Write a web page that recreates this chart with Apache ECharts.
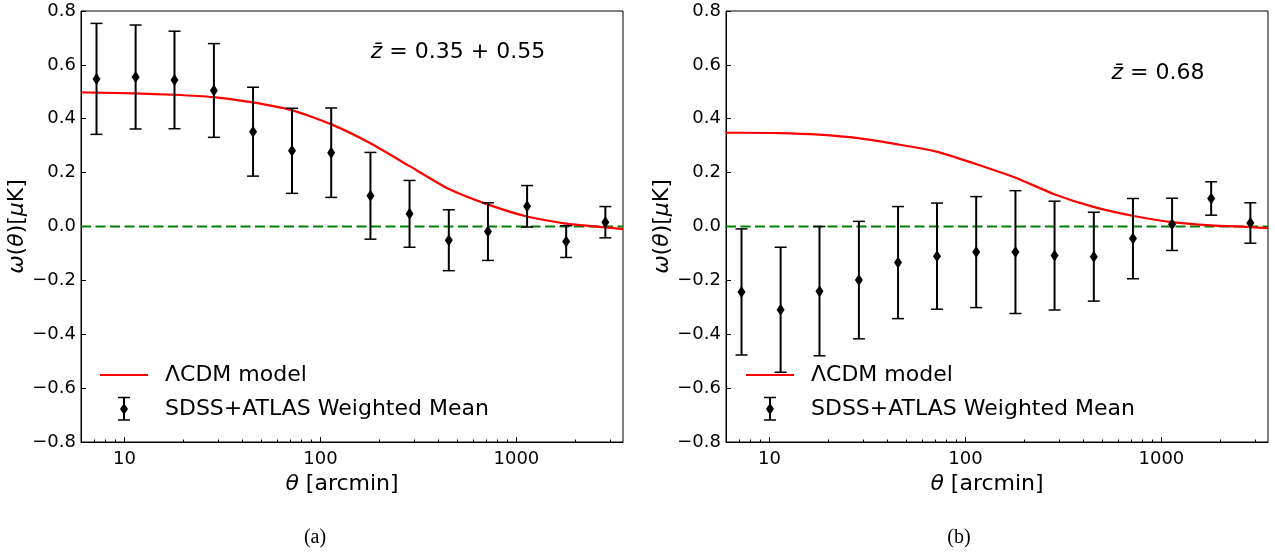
<!DOCTYPE html>
<html>
<head>
<meta charset="utf-8">
<script src="https://cdn.jsdelivr.net/npm/echarts@6/dist/echarts.min.js"></script>
<style>html,body{margin:0;padding:0;background:#fff;}#c{width:1275px;height:554px;}</style>
</head>
<body>
<div id="c"></div>
<script>
// ---- data ----
const theta = [7.2, 11.4, 18.0, 28.6, 45.3, 71.6, 113.5, 180, 285, 452, 716, 1134, 1795, 2845];
const meanA = [0.548, 0.555, 0.544, 0.505, 0.352, 0.281, 0.274, 0.114, 0.047, -0.051, -0.019, 0.075, -0.056, 0.016];
const errA  = [0.206, 0.193, 0.181, 0.174, 0.165, 0.158, 0.166, 0.161, 0.124, 0.113, 0.107, 0.077, 0.059, 0.058];
const meanB = [-0.243, -0.309, -0.240, -0.199, -0.134, -0.110, -0.095, -0.095, -0.108, -0.112, -0.045, 0.008, 0.104, 0.013];
const errB  = [0.234, 0.232, 0.240, 0.218, 0.208, 0.197, 0.206, 0.228, 0.202, 0.165, 0.149, 0.097, 0.062, 0.075];
const modelTheta = [6, 7.1, 11.3, 17.9, 28.4, 45, 71.3, 113, 179, 284, 450, 713, 1130, 1791, 2839, 3500];
const modelA = [0.498, 0.497, 0.494, 0.489, 0.480, 0.461, 0.432, 0.380, 0.310, 0.225, 0.140, 0.082, 0.037, 0.011, -0.003, -0.010];
const modelB = [0.348, 0.348, 0.347, 0.341, 0.328, 0.305, 0.278, 0.232, 0.182, 0.120, 0.073, 0.040, 0.016, 0.004, -0.002, -0.006];
const refLevel = 0;
const xRange = [6, 3500];
const yRange = [-0.8, 0.8];
const majorTicks = [10, 100, 1000];
const minorTicks = [6, 7, 8, 9, 20, 30, 40, 50, 60, 70, 80, 90, 200, 300, 400, 500, 600, 700, 800, 900, 2000, 3000];
const labels = {model: 'ΛCDM model', data: 'SDSS+ATLAS Weighted Mean', zA: '0.35 + 0.55', zB: '0.68', capA: '(a)', capB: '(b)'};

const FONT = 'DejaVu Sans';
const chart = echarts.init(document.getElementById('c'));

const grids = [
  {left: 81, top: 11, width: 542, height: 431},
  {left: 726, top: 11, width: 542, height: 431}
];

function mainX(gi) {
  return {
    type: 'log', gridIndex: gi, min: xRange[0], max: xRange[1], logBase: 10, position: 'bottom',
    name: '{i|θ} [arcmin]', nameLocation: 'middle', nameGap: 30,
    nameTextStyle: {fontFamily: FONT, fontSize: 22, color: '#000', padding: [0, 20, 0, 0],
      rich: {i: {fontFamily: FONT, fontStyle: 'italic', fontSize: 22, color: '#000'}}},
    axisLine: {show: true, onZero: false, lineStyle: {color: '#000', width: 1}},
    axisTick: {show: true, inside: true, length: 5, customValues: majorTicks, lineStyle: {color: '#000', width: 1}},
    axisLabel: {show: true, customValues: majorTicks, margin: 8, fontFamily: FONT, fontSize: 18, color: '#000',
      formatter: v => String(Math.round(v))},
    splitLine: {show: false}
  };
}
function minorX(gi) {
  return {
    type: 'log', gridIndex: gi, min: xRange[0], max: xRange[1], logBase: 10, position: 'bottom',
    axisLine: {show: false, onZero: false},
    axisTick: {show: true, inside: true, length: 2.5, customValues: minorTicks, lineStyle: {color: '#000', width: 1}},
    axisLabel: {show: false},
    splitLine: {show: false}
  };
}
function yAx(gi) {
  return {
    type: 'value', gridIndex: gi, min: yRange[0], max: yRange[1], interval: 0.2, position: 'left',
    name: '{i|ω}({i|θ})[{i|μ}K]', nameLocation: 'middle', nameGap: 36, nameRotate: 90,
    nameTextStyle: {fontFamily: FONT, fontSize: 22, color: '#000',
      rich: {i: {fontFamily: FONT, fontStyle: 'italic', fontSize: 22, color: '#000'}}},
    axisLine: {show: true, onZero: false, lineStyle: {color: '#000', width: 1}},
    axisTick: {show: true, inside: true, length: 5, lineStyle: {color: '#000', width: 1}},
    axisLabel: {margin: 5, fontFamily: FONT, fontSize: 18, color: '#000',
      formatter: v => (v < -1e-9 ? '\u2212' : '') + Math.abs(v).toFixed(1)},
    splitLine: {show: false}
  };
}

function errRender(params, api) {
  const x = api.value(0), m = api.value(1), e = api.value(2);
  const t = api.coord([x, m + e]);
  const b = api.coord([x, m - e]);
  const hw = 6;
  return {type: 'group', children: [
    {type: 'line', shape: {x1: t[0], y1: t[1], x2: b[0], y2: b[1]}, style: {stroke: '#000', lineWidth: 2}},
    {type: 'line', shape: {x1: t[0] - hw, y1: t[1], x2: t[0] + hw, y2: t[1]}, style: {stroke: '#000', lineWidth: 1.5}},
    {type: 'line', shape: {x1: b[0] - hw, y1: b[1], x2: b[0] + hw, y2: b[1]}, style: {stroke: '#000', lineWidth: 1.5}}
  ]};
}

function seriesFor(gi, mean, err, model) {
  const xi = gi * 2;
  return [
    {type: 'line', name: labels.model, xAxisIndex: xi, yAxisIndex: gi, smooth: 0.2, showSymbol: false, symbol: 'none',
      data: modelTheta.map((t, i) => [t, model[i]]), lineStyle: {color: '#ff0000', width: 2.2}, z: 3, silent: true},
    {type: 'line', name: 'zero', xAxisIndex: xi, yAxisIndex: gi, showSymbol: false, symbol: 'none',
      data: [[xRange[0], refLevel], [xRange[1], refLevel]], lineStyle: {color: '#008000', width: 2.2, type: [10, 4.5], opacity: 1}, z: 2, silent: true},
    {type: 'custom', name: labels.data, xAxisIndex: xi, yAxisIndex: gi, renderItem: errRender,
      data: theta.map((t, i) => [t, mean[i], err[i]]), encode: {x: 0, y: 1}, z: 4, silent: true},
    {type: 'scatter', name: labels.data + ' pts', xAxisIndex: xi, yAxisIndex: gi, symbol: 'diamond', symbolSize: [8, 12],
      data: theta.map((t, i) => [t, mean[i]]), itemStyle: {color: '#000', opacity: 1}, z: 5, silent: true}
  ];
}

function legendGraphics(x0) {
  const cx = x0 + 24;
  const tx = x0 + 65;
  return [
    {type: 'line', shape: {x1: x0, y1: 375, x2: x0 + 48, y2: 375}, style: {stroke: '#ff0000', lineWidth: 2.2}},
    {type: 'text', x: tx, y: 375, style: {text: labels.model, fontFamily: FONT, fontSize: 22, fill: '#000', verticalAlign: 'middle', align: 'left'}},
    {type: 'line', shape: {x1: cx, y1: 397.5, x2: cx, y2: 420}, style: {stroke: '#000', lineWidth: 2}},
    {type: 'line', shape: {x1: cx - 6, y1: 397.5, x2: cx + 6, y2: 397.5}, style: {stroke: '#000', lineWidth: 1.5}},
    {type: 'line', shape: {x1: cx - 6, y1: 420, x2: cx + 6, y2: 420}, style: {stroke: '#000', lineWidth: 1.5}},
    {type: 'polygon', shape: {points: [[cx, 403], [cx + 4, 409], [cx, 415], [cx - 4, 409]]}, style: {fill: '#000'}},
    {type: 'text', x: tx, y: 409, style: {text: labels.data, fontFamily: FONT, fontSize: 22, fill: '#000', verticalAlign: 'middle', align: 'left'}}
  ];
}

function zText(xc, yc, val) {
  return {type: 'text', x: xc, y: yc, style: {
    text: '{i|z\u0304} = ' + val,
    rich: {i: {fontFamily: FONT, fontStyle: 'italic', fontSize: 22, fill: '#000'}},
    fontFamily: FONT, fontSize: 22, fill: '#000', align: 'center', verticalAlign: 'middle'}};
}

const option = {
  backgroundColor: '#fff',
  animation: false,
  grid: grids.map(g => Object.assign({show: true, borderColor: '#000', borderWidth: 1, backgroundColor: 'transparent', containLabel: false}, g)),
  xAxis: [mainX(0), minorX(0), mainX(1), minorX(1)],
  yAxis: [yAx(0), yAx(1)],
  series: [].concat(seriesFor(0, meanA, errA, modelA), seriesFor(1, meanB, errB, modelB)),
  graphic: [].concat(
    legendGraphics(100),
    legendGraphics(746),
    [
      zText(458, 52, labels.zA),
      zText(1158, 73, labels.zB),
      {type: 'text', x: 315, y: 538, style: {text: labels.capA, fontFamily: 'Liberation Serif', fontSize: 20, fill: '#000', align: 'center', verticalAlign: 'middle'}},
      {type: 'text', x: 959, y: 538, style: {text: labels.capB, fontFamily: 'Liberation Serif', fontSize: 20, fill: '#000', align: 'center', verticalAlign: 'middle'}}
    ]
  )
};
chart.setOption(option);
</script>
</body>
</html>
